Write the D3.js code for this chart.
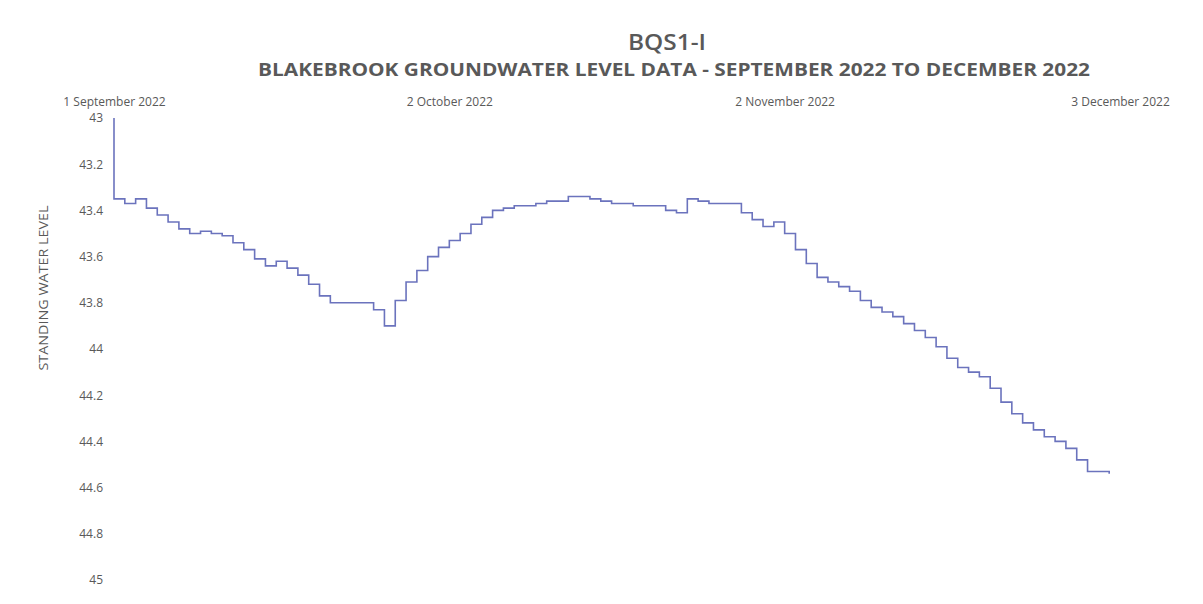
<!DOCTYPE html>
<html>
<head>
<meta charset="utf-8">
<script src="https://cdn.jsdelivr.net/npm/d3@7"></script>
<style>
  html, body { margin: 0; padding: 0; background: #ffffff; }
  svg { display: block; font-family: "Open Sans", "Lato", sans-serif; }
</style>
</head>
<body>
<svg id="chart" width="1203" height="604"></svg>
<script>
// ---- data ----
const chartTitle = "BQS1-I";
const chartSubtitle = "BLAKEBROOK GROUNDWATER LEVEL DATA - SEPTEMBER 2022 TO DECEMBER 2022";
const yAxisTitle = "STANDING WATER LEVEL";
const startDate = "2022-09-01";
const endDate = "2022-12-03";
const xTickDates = ["2022-09-01", "2022-10-02", "2022-11-02", "2022-12-03"];
const xTickLabels = ["1 September 2022", "2 October 2022", "2 November 2022", "3 December 2022"];
const yTicks = [43, 43.2, 43.4, 43.6, 43.8, 44, 44.2, 44.4, 44.6, 44.8, 45];
const initialReading = 43.0;
// daily standing water level readings from 1 September 2022
const dailyLevels = [
  43.35, 43.37, 43.35, 43.39, 43.42, 43.45, 43.48, 43.50, 43.49, 43.50,
  43.51, 43.54, 43.57, 43.61, 43.64, 43.62, 43.65, 43.68, 43.72, 43.77,
  43.80, 43.80, 43.80, 43.80, 43.83, 43.90, 43.79, 43.71, 43.66, 43.60,
  43.56, 43.53, 43.50, 43.46, 43.43, 43.40, 43.39, 43.38, 43.38, 43.37,
  43.36, 43.36, 43.34, 43.34, 43.35, 43.36, 43.37, 43.37, 43.38, 43.38,
  43.38, 43.40, 43.41, 43.35, 43.36, 43.37, 43.37, 43.37, 43.41, 43.44,
  43.47, 43.45, 43.50, 43.57, 43.63, 43.69, 43.71, 43.73, 43.75, 43.79,
  43.82, 43.84, 43.86, 43.89, 43.92, 43.95, 43.99, 44.04, 44.08, 44.10,
  44.12, 44.17, 44.23, 44.28, 44.32, 44.35, 44.38, 44.40, 44.43, 44.48,
  44.53, 44.53, 44.54
];

// ---- build ----
const parse = d3.timeParse("%Y-%m-%d");
const t0 = parse(startDate);
const series = [{date: t0, value: initialReading}].concat(
  dailyLevels.map((v, i) => ({date: d3.timeDay.offset(t0, i), value: v}))
);

const svg = d3.select("#chart");
const textColor = "#595959";

const x = d3.scaleTime().domain([t0, parse(endDate)]).range([114, 1120]);
const y = d3.scaleLinear().domain([43, 45]).range([118, 580]);

// titles
svg.append("text").attr("x", 667).attr("y", 50).attr("text-anchor", "middle")
  .attr("fill", textColor).attr("font-size", 21).attr("font-weight", 600)
  .attr("textLength", 78).attr("lengthAdjust", "spacingAndGlyphs")
  .text(chartTitle);
svg.append("text").attr("x", 674).attr("y", 76).attr("text-anchor", "middle")
  .attr("fill", textColor).attr("font-size", 17.5).attr("font-weight", 700)
  .attr("textLength", 832).attr("lengthAdjust", "spacingAndGlyphs")
  .text(chartSubtitle);

// x axis (top)
const xAxis = d3.axisTop(x)
  .tickValues(xTickDates.map(parse))
  .tickSize(0).tickPadding(0)
  .tickFormat((d, i) => xTickLabels[i]);
const gx = svg.append("g").attr("transform", "translate(0,106)").call(xAxis);
gx.select(".domain").remove();
gx.selectAll("text").attr("fill", textColor).attr("font-size", 12)
  .attr("font-family", "'Open Sans', sans-serif");

// y axis
const yAxis = d3.axisLeft(y).tickValues(yTicks).tickSize(0).tickPadding(0)
  .tickFormat(d3.format("~g"));
const gy = svg.append("g").attr("transform", "translate(103,0)").call(yAxis);
gy.select(".domain").remove();
gy.selectAll("text").attr("fill", textColor).attr("font-size", 12)
  .attr("font-family", "'Open Sans', sans-serif");

// y axis title
svg.append("text")
  .attr("transform", "translate(48,288) rotate(-90)")
  .attr("text-anchor", "middle").attr("fill", textColor)
  .attr("font-size", 13)
  .attr("textLength", 165).attr("lengthAdjust", "spacingAndGlyphs")
  .text(yAxisTitle);

// line
const line = d3.line()
  .x(d => x(d.date)).y(d => y(d.value))
  .curve(d3.curveStepAfter);
svg.append("path").datum(series)
  .attr("fill", "none").attr("stroke", "#6b73bd")
  .attr("stroke-width", 1.6).attr("stroke-linejoin", "miter")
  .attr("d", line);
</script>
</body>
</html>
